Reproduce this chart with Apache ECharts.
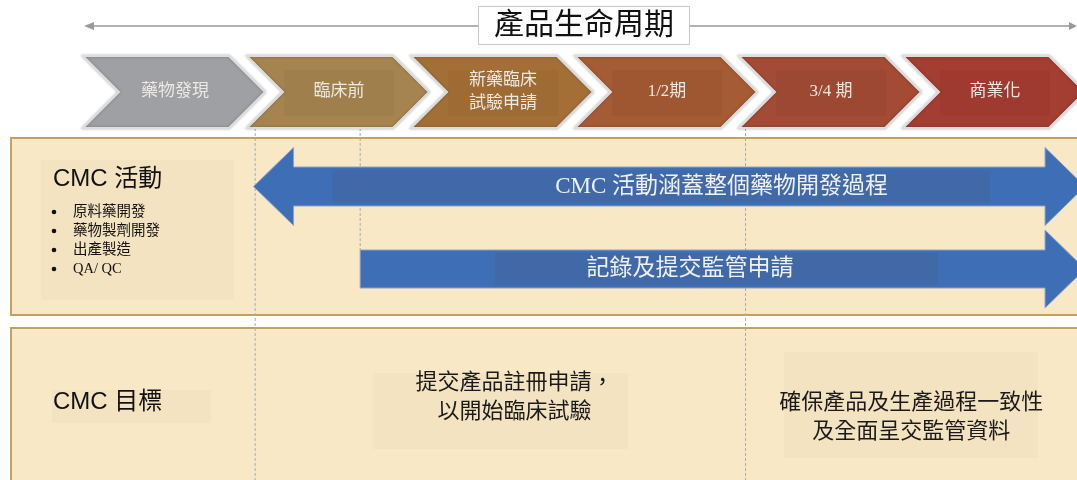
<!DOCTYPE html>
<html>
<head>
<meta charset="utf-8">
<script src="https://cdn.jsdelivr.net/npm/echarts@6/dist/echarts.min.js"></script>
<style>
  html, body { margin: 0; padding: 0; background: #fff; }
  #chart { width: 1077px; height: 480px; }
</style>
</head>
<body>
<div id="chart"></div>
<script>
// 產品生命周期 stages (x axis runs in stage units, one stage = one unit)
const stages = ['藥物發現', '臨床前', '新藥臨床\n試驗申請', '1/2期', '3/4 期', '商業化'];
const stageStart = [0, 1, 2, 3, 4, 5];
const stageEnd = [1, 2, 3, 4, 5, 6];

const activityTitle = 'CMC 活動';
const activityItems = ['原料藥開發', '藥物製劑開發', '出產製造', 'QA/ QC'];

const arrowLabels = ['CMC 活動涵蓋整個藥物開發過程', '記錄及提交監管申請'];
const arrowStart = [1.04, 1.69];
const arrowEnd = [6.11, 6.11];
const arrowBoth = [true, false];

const milestones = [1.05, 1.69, 4.04];

const goalTitle = 'CMC 目標';
const goalLabels = ['提交產品註冊申請，\n以開始臨床試驗', '確保產品及生產過程一致性\n及全面呈交監管資料'];
const goalStart = [1.05, 4.04];
const goalEnd = [4.04, 6.06];

// colours / layout (y in page rows, 0 = top)
const stageColors = ['#9fa0a4', '#a5844f', '#a46f37', '#a55b34', '#a34b34', '#a43d32'];
const SERIF = '"Liberation Serif", "Noto Sans CJK TC", serif';
const SANS = '"Liberation Sans", "Noto Sans CJK TC", sans-serif';
const CHEV = { top: 56, bottom: 128, tip: 18 };
const ARROW = [
  { cy: 186.5, shaft: 19.5, head: 39, headLen: 40, box: [0.095, 0.886], text: 0.563 },
  { cy: 269, shaft: 19, head: 39, headLen: 40, box: [0.186, 0.797], text: 0.455 }
];
const milestoneTop = 128;
const milestoneBottom = [480, 250, 480];
const GOAL = [
  { boxTop: 373, boxH: 76, boxW: 255, textY: 398, dx: 14 },
  { boxTop: 352, boxH: 106, boxW: 254, textY: 418, dx: 0 }
];

const chart = echarts.init(document.getElementById('chart'));

function renderStage(params, api) {
  const i = api.value(2);
  const x0 = api.coord([api.value(0), 0])[0];
  const x1 = api.coord([api.value(1), 0])[0];
  const top = api.coord([0, CHEV.top])[1];
  const bot = api.coord([0, CHEV.bottom])[1];
  const h = (bot - top) / 2;
  const tipX = x1 + CHEV.tip;
  const cx = (x0 + x1) / 2 + 10;
  const cy = top + h;
  return {
    type: 'group',
    children: [
      {
        type: 'polygon',
        shape: { points: [[x0, top], [tipX - h, top], [tipX, cy], [tipX - h, bot], [x0, bot], [x0 + h, cy]] },
        style: { fill: stageColors[i], stroke: '#dedede', lineWidth: 2, shadowBlur: 3, shadowColor: 'rgba(0,0,0,0.25)' }
      },
      {
        type: 'rect',
        shape: { x: cx - 55, y: top + 14, width: 110, height: 46 },
        style: { fill: i === 0 ? 'rgba(0,0,0,0)' : 'rgba(0,0,0,0.035)' }
      },
      {
        type: 'text',
        style: {
          text: stages[i], x: cx, y: cy, align: 'center', verticalAlign: 'middle',
          fontSize: 17, lineHeight: 23, fontFamily: SERIF, fill: '#ece8e2'
        }
      }
    ]
  };
}

function renderArrow(params, api) {
  const i = api.value(2);
  const L = ARROW[i];
  const xs = api.coord([api.value(0), 0])[0];
  const xe = api.coord([api.value(1), 0])[0];
  const cy = api.coord([0, L.cy])[1];
  const s = L.shaft, H = L.head, hl = L.headLen;
  let pts;
  if (arrowBoth[i]) {
    pts = [[xs, cy], [xs + hl, cy - H], [xs + hl, cy - s], [xe - hl, cy - s], [xe - hl, cy - H], [xe, cy],
      [xe - hl, cy + H], [xe - hl, cy + s], [xs + hl, cy + s], [xs + hl, cy + H]];
  } else {
    pts = [[xs, cy - s], [xe - hl, cy - s], [xe - hl, cy - H], [xe, cy], [xe - hl, cy + H], [xe - hl, cy + s], [xs, cy + s]];
  }
  const len = xe - xs;
  const bx0 = xs + len * L.box[0], bx1 = xs + len * L.box[1];
  return {
    type: 'group',
    children: [
      { type: 'polygon', shape: { points: pts }, style: { fill: '#3e6eb6', stroke: '#8aa3c9', lineWidth: 1 } },
      { type: 'rect', shape: { x: bx0, y: cy - 16, width: bx1 - bx0, height: 32 }, style: { fill: '#4169a8' } },
      {
        type: 'text',
        style: {
          text: arrowLabels[i], x: xs + len * L.text, y: cy, align: 'center', verticalAlign: 'middle',
          fontSize: 23, fontFamily: SERIF, fill: '#eef2f8'
        }
      }
    ]
  };
}

function renderMilestone(params, api) {
  const i = params.dataIndex;
  const p0 = api.coord([api.value(0), milestoneTop]);
  const p1 = api.coord([api.value(0), milestoneBottom[i]]);
  return {
    type: 'line',
    shape: { x1: p0[0], y1: p0[1], x2: p1[0], y2: p1[1] },
    style: { stroke: '#a4abb8', lineWidth: 1, lineDash: [3, 2] }
  };
}

function renderGoal(params, api) {
  const i = api.value(2);
  const G = GOAL[i];
  const xa = api.coord([api.value(0), 0])[0];
  const xb = api.coord([api.value(1), 0])[0];
  const mid = (xa + xb) / 2;
  return {
    type: 'group',
    children: [
      { type: 'rect', shape: { x: mid - G.boxW / 2, y: api.coord([0, G.boxTop])[1], width: G.boxW, height: G.boxH }, style: { fill: '#f4e3c1' } },
      {
        type: 'text',
        style: {
          text: goalLabels[i], x: mid + G.dx, y: api.coord([0, G.textY])[1], align: 'center', verticalAlign: 'middle',
          fontSize: 22, lineHeight: 29, fontFamily: SERIF, fill: '#1a1a1a'
        }
      }
    ]
  };
}

const graphics = [
  // lifecycle timeline line with arrow heads
  { type: 'line', shape: { x1: 86, y1: 26, x2: 1075, y2: 26 }, style: { stroke: '#9a9a9a', lineWidth: 1.5 }, z: 0 },
  { type: 'polygon', shape: { points: [[84, 26], [94, 22], [94, 30]] }, style: { fill: '#9a9a9a' }, z: 0 },
  { type: 'polygon', shape: { points: [[1077, 26], [1069, 22], [1069, 30]] }, style: { fill: '#9a9a9a' }, z: 0 },
  // panels
  { type: 'rect', shape: { x: 11, y: 138, width: 1080, height: 177 }, style: { fill: '#f9e8c5', stroke: '#c4a25e', lineWidth: 2 }, z: 0 },
  { type: 'rect', shape: { x: 11, y: 328, width: 1080, height: 170 }, style: { fill: '#f9e8c5', stroke: '#c4a25e', lineWidth: 2 }, z: 0 },
  { type: 'rect', shape: { x: 41, y: 160, width: 193, height: 140 }, style: { fill: '#f4e3c1' }, z: 1 },
  { type: 'rect', shape: { x: 52, y: 390, width: 159, height: 33 }, style: { fill: '#f4e3c1' }, z: 1 },
  { type: 'text', style: { text: activityTitle, x: 53, y: 179, verticalAlign: 'middle', fontSize: 24, fontFamily: SANS, fill: '#111' }, z: 2 },
  { type: 'text', style: { text: goalTitle, x: 53, y: 402, verticalAlign: 'middle', fontSize: 24, fontFamily: SANS, fill: '#111' }, z: 2 }
];
activityItems.forEach((item, k) => {
  const y = 212 + k * 19;
  graphics.push({ type: 'circle', shape: { cx: 54, cy: y, r: 2.3 }, style: { fill: '#111' }, z: 2 });
  graphics.push({ type: 'text', style: { text: item, x: 73, y: y, verticalAlign: 'middle', fontSize: 14.5, fontFamily: SERIF, fill: '#111' }, z: 2 });
});

chart.setOption({
  animation: false,
  title: {
    text: '產品生命周期',
    left: 478,
    top: 6,
    padding: [3, 16],
    backgroundColor: '#fff',
    borderColor: '#c8c8c8',
    borderWidth: 1,
    textStyle: { fontSize: 30, lineHeight: 33, fontWeight: 'normal', color: '#111', fontFamily: SANS }
  },
  grid: { left: 83, right: 10, top: 0, bottom: 0 },
  xAxis: { type: 'value', min: 0, max: 6, show: false },
  yAxis: { type: 'value', min: 0, max: 480, inverse: true, show: false },
  graphic: graphics,
  series: [
    {
      type: 'custom', name: 'milestones', z: 3, silent: true,
      data: milestones.map(v => [v]),
      renderItem: renderMilestone
    },
    {
      type: 'custom', name: 'stages', z: 4, silent: true,
      data: stages.map((s, i) => [stageStart[i], stageEnd[i], i]),
      renderItem: renderStage
    },
    {
      type: 'custom', name: 'activities', z: 4, silent: true,
      data: arrowLabels.map((s, i) => [arrowStart[i], arrowEnd[i], i]),
      renderItem: renderArrow
    },
    {
      type: 'custom', name: 'goals', z: 4, silent: true,
      data: goalLabels.map((s, i) => [goalStart[i], goalEnd[i], i]),
      renderItem: renderGoal
    }
  ]
});
</script>
</body>
</html>
